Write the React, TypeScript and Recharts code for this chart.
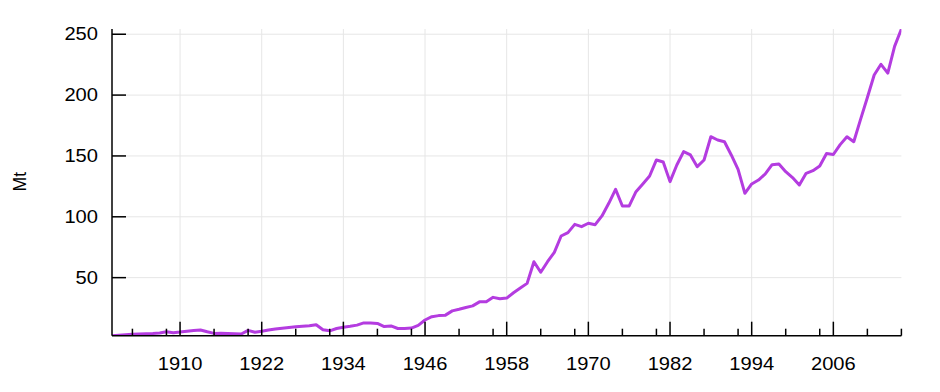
import { LineChart, Line, XAxis, YAxis, CartesianGrid } from "recharts";

// production by year, Mt
const years: number[] = [
  1900, 1901, 1902, 1903, 1904, 1905, 1906, 1907, 1908, 1909,
  1910, 1911, 1912, 1913, 1914, 1915, 1916, 1917, 1918, 1919,
  1920, 1921, 1922, 1923, 1924, 1925, 1926, 1927, 1928, 1929,
  1930, 1931, 1932, 1933, 1934, 1935, 1936, 1937, 1938, 1939,
  1940, 1941, 1942, 1943, 1944, 1945, 1946, 1947, 1948, 1949,
  1950, 1951, 1952, 1953, 1954, 1955, 1956, 1957, 1958, 1959,
  1960, 1961, 1962, 1963, 1964, 1965, 1966, 1967, 1968, 1969,
  1970, 1971, 1972, 1973, 1974, 1975, 1976, 1977, 1978, 1979,
  1980, 1981, 1982, 1983, 1984, 1985, 1986, 1987, 1988, 1989,
  1990, 1991, 1992, 1993, 1994, 1995, 1996, 1997, 1998, 1999,
  2000, 2001, 2002, 2003, 2004, 2005, 2006, 2007, 2008, 2009,
  2010, 2011, 2012, 2013, 2014, 2015, 2016,
];

const values: number[] = [
  2.3, 2.6, 3.0, 3.4, 3.7, 4.0, 4.2, 4.6, 5.6, 4.8,
  5.3, 6.0, 6.5, 7.0, 5.5, 4.2, 4.3, 4.2, 4.0, 3.7,
  6.7, 5.1, 5.9, 7.0, 7.8, 8.5, 9.0, 9.6, 10.0, 10.4,
  11.3, 7.2, 6.3, 8.2, 9.3, 10.0, 11.0, 12.8, 12.8, 12.4,
  9.8, 10.3, 8.2, 8.3, 8.6, 10.8, 15.2, 17.9, 18.8, 19.2,
  22.7, 24.0, 25.5, 26.8, 30.1, 30.1, 33.8, 32.6, 33.2, 37.6,
  41.5, 45.3, 63.1, 54.4, 63.1, 70.8, 84.2, 87.0, 93.8, 91.9,
  94.7, 93.5, 100.7, 111.1, 122.6, 108.9, 108.9, 120.6, 127.0, 133.5,
  146.7, 145.0, 128.9, 142.6, 153.5, 150.8, 141.2, 146.7, 165.8, 163.1,
  161.7, 150.8, 139.0, 119.3, 127.0, 130.2, 135.2, 142.8, 143.4, 137.1,
  132.2, 126.1, 135.7, 137.9, 141.7, 152.0, 151.2, 159.3, 165.8, 161.7,
  180.0, 198.0, 216.5, 225.3, 218.0, 240.0, 254.3,
];

const majorYears = [1910, 1922, 1934, 1946, 1958, 1970, 1982, 1994, 2006];
const minorYears = [
  1903, 1908, 1915, 1920, 1927, 1932, 1939, 1944, 1951, 1956,
  1963, 1968, 1975, 1980, 1987, 1992, 1999, 2004, 2011, 2016,
];
const yTicks = [50, 100, 150, 200, 250];

const data = years.map((year, i) => ({ year, value: values[i] }));
const allXTicks = [...majorYears, ...minorYears].sort((a, b) => a - b);

const FONT = "'Liberation Sans', Arial, sans-serif";
const STRETCH = 1.15;

function XTick(props: any) {
  const { x, y, payload } = props;
  const major = majorYears.includes(payload.value);
  return (
    <g>
      <line x1={x} x2={x} y1={y} y2={y - (major ? 14 : 7)} stroke="#000" strokeWidth={1.5} />
      {major && (
        <text
          transform={`translate(${x},${y + 34.3}) scale(${STRETCH},1)`}
          textAnchor="middle"
          fontFamily={FONT}
          fontSize={17.5}
          fill="#000"
        >
          {payload.value}
        </text>
      )}
    </g>
  );
}

function YTick(props: any) {
  const { x, y, payload } = props;
  return (
    <g>
      <line x1={x} x2={x + 14} y1={y} y2={y} stroke="#000" strokeWidth={1.5} />
      <text
        transform={`translate(${x - 14},${y + 6.2}) scale(${STRETCH},1)`}
        textAnchor="end"
        fontFamily={FONT}
        fontSize={17.5}
        fill="#000"
      >
        {payload.value}
      </text>
    </g>
  );
}

export default function App() {
  return (
    <div style={{ position: "absolute", left: 0, top: 0, background: "#fff" }}>
      <LineChart
        width={940}
        height={392}
        data={data}
        margin={{ top: 29, right: 38.6, left: 0, bottom: 0 }}
      >
        <CartesianGrid
          stroke="#e6e6e6"
          strokeWidth={1}
          verticalValues={majorYears}
          horizontalValues={yTicks}
        />
        <XAxis
          dataKey="year"
          type="number"
          domain={[1900, 2016]}
          ticks={allXTicks}
          interval={0}
          allowDataOverflow
          height={56.3}
          tickSize={0}
          tickMargin={0}
          tickLine={false}
          axisLine={{ stroke: "#000", strokeWidth: 1.5 }}
          tick={<XTick />}
        />
        <YAxis
          type="number"
          domain={[2.3, 254.3]}
          ticks={yTicks}
          interval={0}
          allowDataOverflow
          width={112}
          tickSize={0}
          tickMargin={0}
          tickLine={false}
          axisLine={{ stroke: "#000", strokeWidth: 1.5 }}
          tick={<YTick />}
        />
        <Line
          type="linear"
          dataKey="value"
          stroke="#b43ce0"
          strokeWidth={3}
          strokeLinejoin="round"
          dot={false}
          activeDot={false}
          isAnimationActive={false}
        />
        <text
          transform="translate(25.5,181.7) rotate(-90)"
          textAnchor="middle"
          fontFamily={FONT}
          fontSize={17.5}
          fill="#000"
        >
          Mt
        </text>
      </LineChart>
    </div>
  );
}
